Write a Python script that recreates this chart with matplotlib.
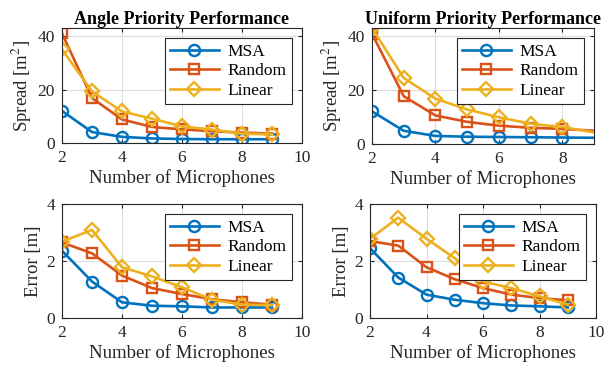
import numpy as np
import matplotlib.pyplot as plt

plt.rcParams['font.family'] = ['Liberation Serif', 'DejaVu Serif']
plt.rcParams['mathtext.fontset'] = 'stix'

mics = [2, 3, 4, 5, 6, 7, 8, 9]
labels = ['MSA', 'Random', 'Linear']

# spread [m^2]
angle_spread_msa = [12.0, 4.1, 2.3, 1.7, 1.5, 1.4, 1.4, 1.4]
angle_spread_random = [41.0, 16.8, 8.8, 6.0, 5.1, 4.4, 3.9, 3.5]
angle_spread_linear = [35.0, 19.3, 11.8, 9.1, 6.2, 5.0, 3.5, 3.2]

uniform_spread_msa = [12.1, 4.9, 3.0, 2.7, 2.6, 2.5, 2.4, 2.3]
uniform_spread_random = [40.9, 17.7, 10.6, 8.2, 6.8, 6.0, 5.6, 4.9]
uniform_spread_linear = [43.0, 24.5, 16.8, 12.8, 9.9, 7.5, 6.3, 4.3]

# error [m]
angle_error_msa = [2.36, 1.28, 0.55, 0.43, 0.41, 0.37, 0.37, 0.37]
angle_error_random = [2.65, 2.27, 1.49, 1.05, 0.84, 0.66, 0.55, 0.47]
angle_error_linear = [2.68, 3.09, 1.78, 1.46, 1.08, 0.64, 0.47, 0.45]

uniform_error_msa = [2.45, 1.42, 0.82, 0.64, 0.52, 0.44, 0.41, 0.37]
uniform_error_random = [2.70, 2.54, 1.78, 1.36, 1.05, 0.82, 0.70, 0.62]
uniform_error_linear = [2.78, 3.52, 2.78, 2.10, 1.28, 1.05, 0.76, 0.47]

colors = ['#0072BD', '#D95319', '#EDB120']
markers = ['o', 's', 'D']
msizes = [8, 6.5, 7.5]

fig = plt.figure(figsize=(6.13, 3.69), dpi=100)
W, H = 613, 369
def add_ax(l, r, t, b):
    return fig.add_axes([l / W, 1 - b / H, (r - l) / W, (b - t) / H])

ax1 = add_ax(62, 302, 28, 143)
ax2 = add_ax(372, 594, 28, 144)
ax3 = add_ax(62, 302, 204, 318)
ax4 = add_ax(370, 596, 204, 318)

def draw(ax, series, ylim, yticks, ylabel, xmax, title=None, mevery=None):
    for ys, c, m, ms, lab in zip(series, colors, markers, msizes, labels):
        ax.plot(mics, ys, color=c, marker=m, markersize=ms, markerfacecolor='none',
                markeredgewidth=1.7, linewidth=1.9, label=lab, markevery=mevery)
    ax.set_xlim(2, xmax)
    ax.set_ylim(*ylim)
    ax.set_xticks(range(2, xmax + 1, 2))
    ax.set_yticks(yticks)
    ax.grid(True, color='#dcdcdc', linewidth=0.8)
    ax.set_axisbelow(True)
    ax.tick_params(direction='in', labelsize=12.5, colors='#262626', length=3,
                   top=True, right=True, pad=5)
    for s in ax.spines.values():
        s.set_color('#262626')
        s.set_linewidth(0.8)
    ax.set_xlabel('Number of Microphones', fontsize=13.5, color='#262626', labelpad=2)
    ax.set_ylabel(ylabel, fontsize=13.5, color='#262626', labelpad=3)
    if title:
        ax.set_title(title, fontsize=13, fontweight='bold', pad=3)
    leg = ax.legend(loc='upper right', fontsize=12.5, handlelength=2.8, fancybox=False,
                    edgecolor='#262626', framealpha=1, borderpad=0.3, labelspacing=0.2,
                    handletextpad=0.5, borderaxespad=0.6)
    leg.get_frame().set_linewidth(0.8)

draw(ax1, [angle_spread_msa, angle_spread_random, angle_spread_linear],
     (0, 43), [0, 20, 40], 'Spread [m$^2$]', 10, 'Angle Priority Performance')
draw(ax2, [uniform_spread_msa, uniform_spread_random, uniform_spread_linear],
     (0, 43), [0, 20, 40], 'Spread [m$^2$]', 9, 'Uniform Priority Performance',
     mevery=slice(0, 7))
ax2.set_xticks([2, 4, 6, 8])
draw(ax3, [angle_error_msa, angle_error_random, angle_error_linear],
     (0, 4), [0, 2, 4], 'Error [m]', 10)
draw(ax4, [uniform_error_msa, uniform_error_random, uniform_error_linear],
     (0, 4), [0, 2, 4], 'Error [m]', 10)

fig.savefig('out.png', dpi=100)
